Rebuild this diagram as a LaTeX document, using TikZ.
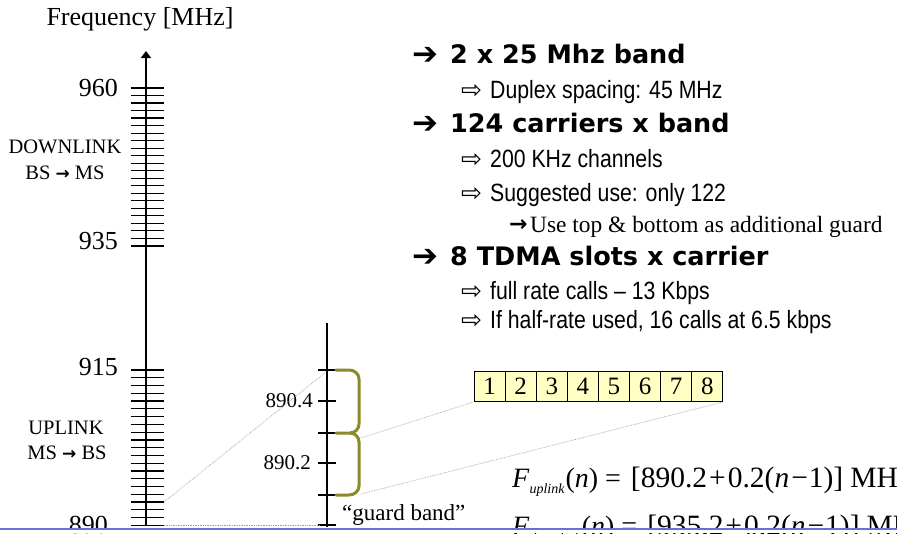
\documentclass[tikz,border=0pt]{standalone}
\usepackage{fontspec}
\setmainfont{Liberation Serif}
\newfontfamily\headfont{DejaVu Sans}
\newfontfamily\subfont[FakeStretch=0.85]{Liberation Sans}
\newfontfamily\symfont{DejaVu Sans}
\usetikzlibrary{arrows.meta}
\definecolor{braceol}{RGB}{138,138,40}
\definecolor{slotfill}{RGB}{255,255,196}
\definecolor{slideblue}{RGB}{110,110,215}
\newcommand{\barrow}{{\symfont\bfseries\fontsize{17}{17}\selectfont →}}
\newcommand{\rhsfont}{\fontsize{29.5}{29.5}\selectfont}
\tikzset{
  axisline/.style={line width=1.4pt,black},
  tickline/.style={line width=1.2pt,black},
  guide/.style={gray!75,line width=0.7pt,densely dotted},
  bracepath/.style={braceol,line width=3pt,line cap=round},
  axlbl/.style={anchor=east,inner sep=0pt,font=\fontsize{26}{26}\selectfont},
  sidelbl/.style={inner sep=0pt,font=\fontsize{20.5}{20.5}\selectfont},
  headarrow/.style={anchor=base west,inner sep=0pt,font=\symfont\bfseries\fontsize{31}{31}\selectfont},
  headtxt/.style={anchor=base west,inner sep=0pt,font=\headfont\bfseries\fontsize{25.5}{25.5}\selectfont},
  subarrow/.style={anchor=base west,inner sep=0pt,font=\symfont\fontsize{25}{25}\selectfont},
  subtxt/.style={anchor=base west,inner sep=0pt,font=\subfont\fontsize{25}{25}\selectfont},
  slotbox/.style={draw=black,line width=0.8pt,fill=slotfill,minimum width=31.1pt,minimum height=30pt,inner sep=0pt,font=\fontsize{25}{25}\selectfont},
  formula/.style={anchor=base west,inner sep=0pt,font=\fontsize{28}{28}\selectfont},
}
\begin{document}
\begin{tikzpicture}[x=1pt,y=-1pt]
\path[use as bounding box] (0,0) rectangle (897,533);
\clip (0,0) rectangle (897,533);
\fill[white] (0,0) rectangle (897,533);

% ---------- main frequency axis ----------
\coordinate (axbot) at (146,526);
\coordinate (axtop) at (146,51);
\draw[axisline,-{Triangle[length=7pt,width=10pt]}] (axbot) -- (axtop);
\foreach \i in {0,...,21} \draw[tickline] (131,{88+\i*7.52}) -- (164,{88+\i*7.52});
\foreach \i in {0,...,20} \draw[tickline] (131,{370+\i*7.77}) -- (164,{370+\i*7.77});

\node[inner sep=0pt,font=\fontsize{26}{26}\selectfont] (freq) at (140,19) {Frequency [MHz]};
\node[axlbl] (l960) at (118,88) {960};
\node[axlbl] (l935) at (118,241) {935};
\node[axlbl] (l915) at (118,367) {915};
\node[axlbl] (l890) at (108,525) {890};
\node[sidelbl] (dl1) at (65,147) {DOWNLINK};
\node[sidelbl] (dl2) at (65,173) {BS \barrow{} MS};
\node[sidelbl] (ul1) at (66,428) {UPLINK};
\node[sidelbl] (ul2) at (67,453) {MS \barrow{} BS};

% ---------- zoomed axis ----------
\coordinate (zbot) at (327,527);
\coordinate (ztop) at (327,323);
\draw[axisline,line width=1.2pt] (zbot) -- (ztop);
\foreach \y in {370,401,433,463,495,525} \draw[tickline] (318,\y) -- (336,\y);
\node[anchor=east,inner sep=0pt,font=\fontsize{21}{21}\selectfont] (z904) at (313,401) {890.4};
\node[anchor=east,inner sep=0pt,font=\fontsize{21}{21}\selectfont] (z902) at (311,463) {890.2};
\node[anchor=west,inner sep=0pt,font=\fontsize{23}{23}\selectfont] (gb) at (342,515) {“guard band”};

% braces
\draw[bracepath] (336,370) -- (349,370) to[out=0,in=90] (359,379) -- (359,424) to[out=-90,in=0] (350,433) -- (336,433);
\draw[bracepath] (350,433) to[out=0,in=90] (359,442) -- (359,486) to[out=-90,in=0] (349,495) -- (336,495);
\coordinate (bjoin) at (361,438);
\coordinate (bbot) at (361,494);

% connectors from main axis
\coordinate (m1) at (164,502);
\coordinate (m0) at (164,525);
\coordinate (z1) at (326,372);
\coordinate (z0) at (320,525);
\draw[guide] (m1) -- (z1);
\draw[guide] (m0) -- (z0);

% ---------- TDMA slots ----------
\foreach \k in {1,...,8}
  \node[slotbox] (s\k) at ({474+15.55+(\k-1)*31.1},386.5) {\k};
\draw[guide] (bjoin) -- (s1.south west);
\draw[guide] (bbot) -- (s8.south east);

% ---------- bullet text ----------
\node[headarrow] (a1) at (412,64) {➔};
\node[headtxt] (h1) at (450,63) {2 x 25 Mhz band};
\node[subarrow] (b1) at (461,98) {⇨};
\node[subtxt] (t1) at (490,98) {Duplex spacing: 45 MHz};
\node[headarrow] (a2) at (412,133) {➔};
\node[headtxt] (h2) at (450,132) {124 carriers x band};
\node[subarrow] (b2) at (461,167) {⇨};
\node[subtxt] (t2) at (490,167) {200 KHz channels};
\node[subarrow] (b3) at (461,201) {⇨};
\node[subtxt] (t3) at (490,201) {Suggested use: only 122};
\node[anchor=base west,inner sep=0pt,font=\symfont\bfseries\fontsize{22}{22}\selectfont] (c1) at (509,231) {→};
\node[anchor=base west,inner sep=0pt,font=\fontsize{23.4}{23.4}\selectfont] (u1) at (530,232) {Use top \& bottom as additional guard};
\node[headarrow] (a3) at (412,266) {➔};
\node[headtxt] (h3) at (450,265) {8 TDMA slots x carrier};
\node[subarrow] (b4) at (461,299) {⇨};
\node[subtxt] (t4) at (490,299) {full rate calls – 13 Kbps};
\node[subarrow] (b5) at (461,328) {⇨};
\node[subtxt] (t5) at (490,328) {If half-rate used, 16 calls at 6.5 kbps};

% ---------- formulas ----------
\node[formula] (f1) at (512,487)
  {\textit{F}\raisebox{-6pt}{\fontsize{14}{14}\selectfont\itshape uplink}\kern1pt(\textit{n})\kern7pt=\kern10pt{\rhsfont[890.2\kern2pt+\kern2pt0.2(\textit{n}\kern2pt−\kern1pt1)]\kern7pt MHz}};
\node[formula] (f2) at (512,535)
  {\textit{F}\raisebox{-6pt}{\fontsize{14}{14}\selectfont\itshape downlink}\kern1pt(\textit{n})\kern7pt=\kern10pt{\rhsfont[935.2\kern2pt+\kern2pt0.2(\textit{n}\kern2pt−\kern1pt1)]\kern7pt MHz}};

% ---------- slide bottom rule ----------
\fill[white] (0,529) rectangle (897,533);
\draw[slideblue,line width=1.6pt] (0,529) -- (897,529);
\end{tikzpicture}
\end{document}
